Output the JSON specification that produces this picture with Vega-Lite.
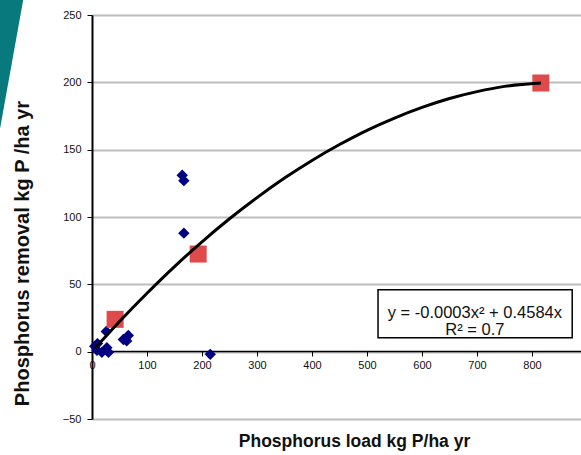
{
  "$schema": "https://vega.github.io/schema/vega-lite/v6.json",
  "width": 489,
  "height": 404,
  "autosize": {"type": "none"},
  "padding": {"left": 92, "top": 15, "right": 0, "bottom": 36},
  "background": "white",
  "config": {"view": {"stroke": null}, "font": "Liberation Sans"},
  "datasets": {
    "decor": [
      {"yy": 160, "xa": -180, "xb": -180},
      {"yy": 166, "xa": -180, "xb": -167},
      {"yy": 275, "xa": -180, "xb": -119}
    ],
    "points": [
      {"load": 5, "removal": 4, "series": "sites"},
      {"load": 10, "removal": 6, "series": "sites"},
      {"load": 9, "removal": 1, "series": "sites"},
      {"load": 18, "removal": -0.5, "series": "sites"},
      {"load": 27, "removal": 3, "series": "sites"},
      {"load": 26, "removal": 15, "series": "sites"},
      {"load": 30, "removal": -0.5, "series": "sites"},
      {"load": 57, "removal": 9, "series": "sites"},
      {"load": 63, "removal": 8, "series": "sites"},
      {"load": 66, "removal": 12, "series": "sites"},
      {"load": 164, "removal": 131, "series": "sites"},
      {"load": 167, "removal": 127, "series": "sites"},
      {"load": 167, "removal": 88, "series": "sites"},
      {"load": 215, "removal": -2, "series": "sites"},
      {"load": 42, "removal": 24, "series": "means"},
      {"load": 193, "removal": 72.5, "series": "means"},
      {"load": 816, "removal": 199.5, "series": "means"}
    ],
    "trend": [
      {"load": 5, "removal": 2.3},
      {"load": 50, "removal": 22.4},
      {"load": 100, "removal": 43.4},
      {"load": 150, "removal": 63.2},
      {"load": 200, "removal": 81.6},
      {"load": 250, "removal": 98.7},
      {"load": 300, "removal": 114.4},
      {"load": 350, "removal": 128.9},
      {"load": 400, "removal": 142.0},
      {"load": 450, "removal": 153.8},
      {"load": 500, "removal": 164.4},
      {"load": 550, "removal": 173.5},
      {"load": 600, "removal": 181.4},
      {"load": 650, "removal": 188.0},
      {"load": 700, "removal": 193.1},
      {"load": 750, "removal": 197.0},
      {"load": 816, "removal": 199.5}
    ]
  },
  "encoding": {
    "x": {
      "type": "quantitative",
      "scale": {"domain": [0, 889], "nice": false, "zero": false},
      "axis": {
        "title": "Phosphorus load kg P/ha yr",
        "values": [0, 100, 200, 300, 400, 500, 600, 700, 800],
        "offset": -68,
        "grid": false,
        "domainColor": "black",
        "domainWidth": 1.5,
        "tickColor": "black",
        "tickWidth": 1,
        "tickSize": 5,
        "labelFontSize": 11,
        "labelColor": "#111111",
        "labelPadding": 3,
        "labelFlush": false,
        "labelOverlap": false,
        "titleFontSize": 17.5,
        "titleFontWeight": "bold",
        "titleColor": "#111111",
        "titleBaseline": "middle",
        "titleX": 262,
        "titleY": 90
      }
    },
    "y": {
      "type": "quantitative",
      "scale": {"domain": [-50, 250], "nice": false, "zero": false},
      "axis": {
        "title": "Phosphorus removal kg P /ha yr",
        "values": [-50, 0, 50, 100, 150, 200, 250],
        "grid": true,
        "gridColor": "#bdbdbd",
        "gridWidth": 2,
        "domainColor": "black",
        "domainWidth": 2,
        "tickColor": "black",
        "tickWidth": 1,
        "tickSize": 5,
        "labelFontSize": 11,
        "labelColor": "#111111",
        "labelPadding": 6,
        "titleFontSize": 20,
        "titleFontWeight": "bold",
        "titleColor": "#111111",
        "titleBaseline": "middle",
        "titleX": -70,
        "titleY": 238
      }
    }
  },
  "layer": [
    {
      "data": {"name": "decor"},
      "mark": {"type": "area", "orient": "horizontal", "color": "#08797d", "clip": false},
      "encoding": {
        "y": {"field": "yy", "type": "quantitative"},
        "x": {"field": "xb", "type": "quantitative"},
        "x2": {"field": "xa"}
      }
    },
    {
      "data": {"name": "points"},
      "mark": {"type": "rect", "fill": "white", "stroke": "black", "strokeWidth": 1.5},
      "encoding": {
        "x": {"datum": 520, "type": "quantitative"},
        "x2": {"datum": 873},
        "y": {"datum": 46, "type": "quantitative"},
        "y2": {"datum": 10.4}
      },
      "transform": [{"filter": "datum.load === 816"}]
    },
    {
      "data": {"name": "points"},
      "mark": {"type": "point", "filled": true, "opacity": 1},
      "encoding": {
        "x": {"field": "load", "type": "quantitative"},
        "y": {"field": "removal", "type": "quantitative"},
        "shape": {"field": "series", "type": "nominal", "scale": {"domain": ["sites", "means"], "range": ["diamond", "square"]}, "legend": null},
        "color": {"field": "series", "type": "nominal", "scale": {"domain": ["sites", "means"], "range": ["#000080", "#de4b4a"]}, "legend": null},
        "size": {"field": "series", "type": "nominal", "scale": {"domain": ["sites", "means"], "range": [130, 290]}, "legend": null}
      }
    },
    {
      "data": {"name": "trend"},
      "mark": {"type": "line", "color": "black", "strokeWidth": 3, "interpolate": "monotone"},
      "encoding": {
        "x": {"field": "load", "type": "quantitative"},
        "y": {"field": "removal", "type": "quantitative"}
      }
    },
    {
      "data": {"name": "points"},
      "transform": [{"filter": "datum.load === 816"}],
      "mark": {"type": "text", "text": ["y = -0.0003x² + 0.4584x", "R² = 0.7"], "fontSize": 16.5, "lineHeight": 17, "align": "center", "baseline": "middle", "color": "#111111"},
      "encoding": {
        "x": {"datum": 696, "type": "quantitative"},
        "y": {"datum": 28.5, "type": "quantitative"}
      }
    }
  ]
}
